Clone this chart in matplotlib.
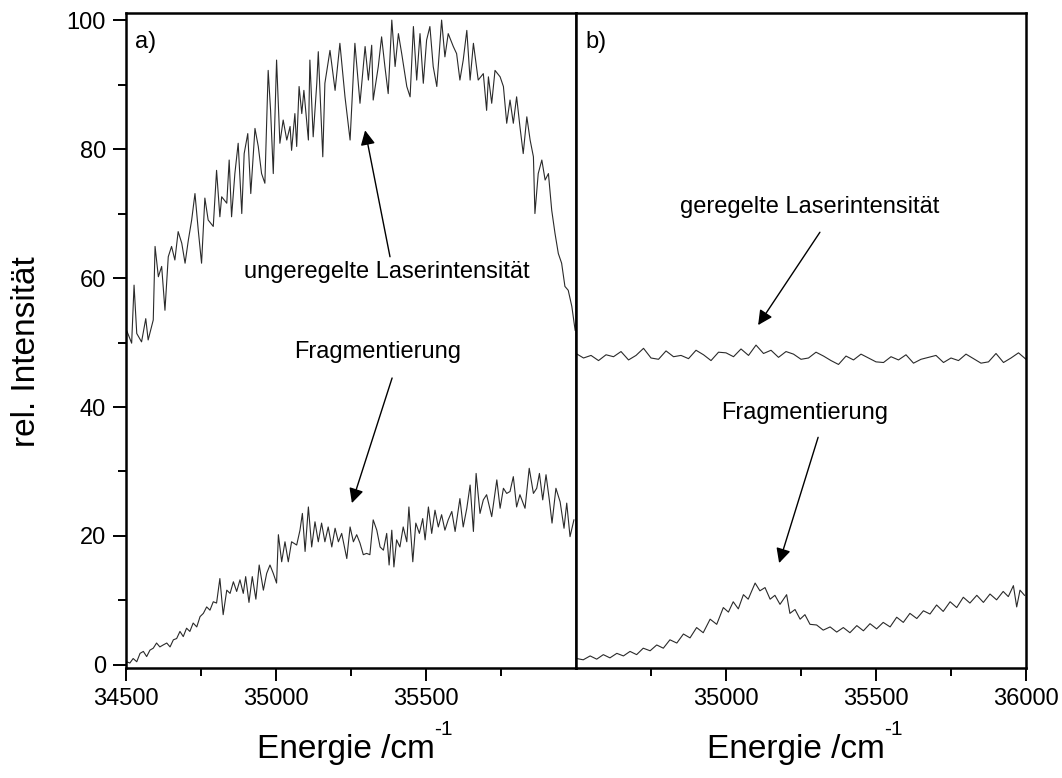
import numpy as np
import matplotlib
matplotlib.use("Agg")
import matplotlib.pyplot as plt
from matplotlib.ticker import MultipleLocator, FixedLocator

plt.rcParams['font.family'] = ['Liberation Sans', 'DejaVu Sans']

# panel a) - unregulated laser intensity
energy_laser_a = [34502, 34519, 34527, 34536, 34552, 34566, 34574, 34591, 34597, 34608,
                  34619, 34630, 34641, 34652, 34663, 34674, 34686, 34697, 34708, 34719,
                  34730, 34741, 34752, 34763, 34774, 34791, 34802, 34813, 34819, 34836,
                  34844, 34852, 34863, 34874, 34886, 34894, 34906, 34916, 34930, 34941,
                  34952, 34963, 34974, 34982, 34991, 35002, 35013, 35024, 35036, 35047,
                  35052, 35063, 35069, 35077, 35086, 35093, 35108, 35113, 35124, 35136,
                  35141, 35156, 35163, 35180, 35197, 35213, 35230, 35247, 35263, 35280,
                  35297, 35308, 35319, 35324, 35341, 35352, 35363, 35374, 35386, 35397,
                  35408, 35419, 35436, 35447, 35458, 35469, 35480, 35491, 35502, 35513,
                  35524, 35536, 35552, 35563, 35574, 35591, 35602, 35613, 35624, 35636,
                  35647, 35658, 35674, 35691, 35702, 35708, 35719, 35730, 35747, 35758,
                  35769, 35780, 35791, 35802, 35813, 35824, 35836, 35847, 35858, 35863,
                  35874, 35886, 35897, 35908, 35919, 35930, 35941, 35952, 35963, 35974,
                  35986, 35997]
laser_a = [51.9, 49.9, 58.9, 51.4, 50.1, 53.7, 50.4, 53.5, 64.9, 60.2,
           61.8, 55.0, 63.3, 64.9, 62.8, 67.2, 65.4, 62.3, 65.9, 69.0,
           73.1, 67.4, 62.3, 72.4, 69.0, 68.0, 76.7, 69.5, 72.6, 71.6,
           78.3, 69.5, 76.2, 80.9, 70.0, 79.3, 82.4, 73.1, 83.2, 80.4,
           76.2, 74.7, 92.2, 86.0, 76.2, 93.8, 80.9, 84.5, 81.4, 83.5,
           79.8, 85.5, 80.4, 89.7, 85.5, 89.1, 81.4, 93.8, 81.9, 90.2,
           95.1, 78.8, 90.2, 95.3, 89.1, 96.4, 88.1, 81.4, 96.4, 87.1,
           95.9, 90.7, 96.1, 87.6, 92.8, 97.4, 92.8, 88.6, 100.0, 92.8,
           97.9, 94.8, 89.7, 88.1, 99.0, 90.7, 97.9, 90.2, 96.9, 99.0,
           92.8, 89.7, 100.0, 94.3, 97.9, 95.9, 94.8, 90.7, 93.8, 98.4,
           90.7, 96.4, 90.7, 91.7, 86.0, 91.2, 87.1, 92.2, 91.2, 89.7,
           84.0, 87.6, 84.0, 88.1, 83.5, 79.3, 85.0, 81.4, 78.8, 70.0,
           76.2, 78.3, 75.2, 76.2, 70.5, 66.9, 63.8, 62.3, 58.7, 58.1,
           55.6, 51.9]

# panel a) - fragmentation signal
energy_frag_a = [34502, 34513, 34524, 34536, 34547, 34558, 34569, 34580, 34591, 34602,
                 34613, 34624, 34636, 34647, 34658, 34669, 34680, 34691, 34702, 34713,
                 34724, 34736, 34747, 34758, 34769, 34780, 34791, 34802, 34813, 34824,
                 34836, 34847, 34858, 34869, 34880, 34891, 34899, 34910, 34921, 34933,
                 34944, 34958, 34969, 34980, 34991, 35002, 35008, 35019, 35030, 35041,
                 35052, 35069, 35080, 35088, 35097, 35108, 35119, 35130, 35141, 35152,
                 35163, 35174, 35186, 35197, 35208, 35219, 35236, 35247, 35258, 35269,
                 35280, 35291, 35302, 35313, 35324, 35336, 35347, 35358, 35369, 35377,
                 35386, 35393, 35402, 35413, 35424, 35436, 35443, 35456, 35466, 35478,
                 35489, 35497, 35508, 35519, 35530, 35541, 35552, 35563, 35574, 35586,
                 35597, 35613, 35624, 35636, 35647, 35658, 35667, 35680, 35691, 35702,
                 35719, 35736, 35747, 35758, 35769, 35780, 35791, 35802, 35813, 35830,
                 35844, 35858, 35869, 35878, 35889, 35900, 35911, 35920, 35933, 35947,
                 35960, 35969, 35980, 35993]
frag_a = [0.5, 0.3, 1.0, 0.5, 1.8, 2.1, 1.3, 2.3, 2.6, 3.4,
          2.8, 3.1, 3.4, 2.8, 3.9, 4.1, 5.2, 4.4, 5.7, 5.2,
          6.5, 5.9, 7.5, 8.0, 9.0, 8.5, 9.8, 9.6, 13.4, 7.8,
          11.6, 11.1, 12.9, 11.4, 13.2, 11.1, 13.7, 9.7, 13.7, 10.2,
          15.5, 11.6, 14.2, 15.5, 14.2, 12.7, 20.2, 16.0, 19.1, 16.0,
          19.1, 18.6, 20.9, 23.5, 17.6, 24.5, 18.3, 22.2, 19.1, 22.0,
          19.1, 21.4, 18.3, 21.2, 19.1, 20.4, 16.5, 21.4, 19.1, 20.2,
          18.9, 17.1, 17.3, 17.1, 22.5, 20.9, 18.3, 17.8, 20.4, 15.5,
          20.9, 15.2, 19.4, 18.3, 21.4, 19.1, 24.5, 16.0, 22.0, 20.4,
          22.7, 19.4, 24.5, 20.4, 24.0, 21.4, 23.3, 20.9, 22.5, 23.8,
          20.7, 25.8, 21.4, 24.3, 27.9, 20.7, 29.7, 23.5, 25.6, 26.4,
          23.0, 28.7, 24.3, 27.4, 26.6, 26.9, 29.2, 24.5, 26.4, 24.3,
          30.5, 26.6, 27.4, 29.7, 25.6, 29.5, 25.6, 22.0, 27.4, 25.3,
          21.2, 25.1, 19.9, 22.5]

# panel b) - regulated laser intensity
energy_laser_b = [34500, 34525, 34550, 34575, 34600, 34625, 34650, 34675, 34700, 34725,
                  34750, 34775, 34800, 34825, 34850, 34875, 34900, 34925, 34950, 34975,
                  35000, 35025, 35050, 35075, 35100, 35125, 35150, 35175, 35200, 35225,
                  35250, 35275, 35300, 35325, 35350, 35375, 35400, 35425, 35450, 35475,
                  35500, 35525, 35550, 35575, 35600, 35625, 35650, 35675, 35700, 35725,
                  35750, 35775, 35800, 35825, 35850, 35875, 35900, 35925, 35950, 35975,
                  36000]
laser_b = [48.3, 47.6, 48.0, 47.2, 48.1, 47.8, 48.6, 47.3, 48.0, 49.1,
           47.6, 47.4, 48.7, 47.8, 48.0, 47.5, 48.8, 48.1, 47.2, 48.5,
           48.4, 47.8, 49.0, 48.0, 49.6, 48.3, 48.8, 47.7, 48.6, 48.2,
           47.4, 47.6, 48.5, 47.9, 47.2, 46.6, 47.9, 47.3, 48.2, 47.6,
           47.0, 46.9, 47.8, 47.3, 48.1, 46.8, 47.4, 47.7, 48.0, 46.9,
           47.6, 47.2, 48.2, 47.5, 46.8, 47.0, 48.3, 46.9, 47.6, 48.4,
           47.4]

# panel b) - fragmentation signal
energy_frag_b = [34502, 34524, 34547, 34569, 34591, 34613, 34636, 34658, 34680, 34702,
                 34724, 34747, 34769, 34791, 34813, 34836, 34858, 34880, 34902, 34924,
                 34947, 34969, 34991, 35008, 35024, 35041, 35058, 35074, 35097, 35113,
                 35130, 35147, 35163, 35180, 35202, 35213, 35230, 35247, 35263, 35280,
                 35302, 35324, 35347, 35369, 35391, 35413, 35436, 35458, 35480, 35502,
                 35524, 35547, 35569, 35591, 35613, 35636, 35658, 35680, 35702, 35724,
                 35747, 35769, 35791, 35813, 35836, 35858, 35880, 35902, 35924, 35941,
                 35958, 35969, 35980, 35995]
frag_b = [1.0, 0.8, 1.4, 0.9, 1.6, 1.1, 1.8, 1.4, 2.1, 1.6,
          2.6, 2.2, 3.1, 2.6, 3.9, 3.4, 4.8, 4.2, 5.8, 5.0,
          7.1, 6.3, 8.9, 8.2, 9.8, 8.7, 10.9, 10.2, 12.7, 11.5,
          12.0, 10.2, 10.8, 9.4, 10.9, 8.0, 8.6, 7.1, 7.8, 6.3,
          6.2, 5.4, 5.9, 5.1, 5.8, 5.0, 6.1, 5.3, 6.4, 5.6,
          6.6, 5.9, 7.4, 6.6, 8.0, 7.2, 8.4, 7.9, 9.3, 8.3,
          9.8, 8.9, 10.5, 9.6, 10.8, 9.7, 11.0, 10.1, 11.4, 10.6,
          12.3, 9.0, 11.6, 10.8]

xmajor_a = [34500, 35000, 35500]
xmajor_b = [35000, 35500, 36000]
yticks = [0, 20, 40, 60, 80, 100]

line_kw = dict(color='#2a2a2a', lw=0.8)
arrow_kw = dict(arrowstyle='-|>', color='black', lw=1.0, mutation_scale=22,
                shrinkA=0, shrinkB=0)


def style_axis(ax, major):
    ax.set_xlim(34500, 36000)
    ax.set_ylim(-0.47, 101.1)
    ax.xaxis.set_major_locator(FixedLocator(major))
    ax.xaxis.set_minor_locator(FixedLocator([34750, 35250, 35750]))
    ax.tick_params(axis='both', which='major', direction='out', length=9.5,
                   width=1.4, labelsize=17, pad=5)
    ax.tick_params(axis='both', which='minor', direction='out', length=5.8,
                   width=1.4)
    for s in ax.spines.values():
        s.set_linewidth(1.8)


def energy_label(x):
    # axis title with a small "-1" exponent written as plain text
    t = fig.text(x, 0.036, 'Energie /cm', fontsize=24, ha='center', va='center')
    ax1.annotate('-1', xy=(1.0, 0.85), xycoords=t, fontsize=15,
                 ha='left', va='bottom', annotation_clip=False)


fig = plt.figure(figsize=(10.62, 7.78), dpi=100)
ax1 = fig.add_axes([0.1186, 0.1414, 0.4238, 0.8419])
ax2 = fig.add_axes([0.5424, 0.1414, 0.4237, 0.8419])

ax1.plot(energy_laser_a, laser_a, **line_kw)
ax1.plot(energy_frag_a, frag_a, **line_kw)
style_axis(ax1, xmajor_a)
ax1.yaxis.set_major_locator(FixedLocator(yticks))
ax1.yaxis.set_minor_locator(MultipleLocator(10))
ax1.tick_params(axis='y', right=False, which='both')
ax1.text(0.02, 0.955, 'a)', transform=ax1.transAxes, fontsize=17,
         ha='left', va='center')

ax1.annotate('', xy=(35297, 82.9), xytext=(35380, 63.3), arrowprops=arrow_kw)
ax1.text(35370, 60.9, 'ungeregelte Laserintensität', fontsize=17,
         ha='center', va='center')
ax1.annotate('', xy=(35253, 25.1), xytext=(35387, 44.5), arrowprops=arrow_kw)
ax1.text(35340, 48.5, 'Fragmentierung', fontsize=17, ha='center', va='center')

ax2.plot(energy_laser_b, laser_b, **line_kw)
ax2.plot(energy_frag_b, frag_b, **line_kw)
style_axis(ax2, xmajor_b)
ax2.set_yticks([])
ax2.yaxis.set_minor_locator(FixedLocator([]))
ax2.text(0.02, 0.955, 'b)', transform=ax2.transAxes, fontsize=17,
         ha='left', va='center')

ax2.annotate('', xy=(35107, 52.7), xytext=(35313, 67.1), arrowprops=arrow_kw)
ax2.text(35280, 71.0, 'geregelte Laserintensität', fontsize=17,
         ha='center', va='center')
ax2.annotate('', xy=(35177, 15.8), xytext=(35307, 35.3), arrowprops=arrow_kw)
ax2.text(35263, 39.1, 'Fragmentierung', fontsize=17, ha='center', va='center')

fig.text(0.025, 0.5475, 'rel. Intensität', rotation=90, fontsize=24,
         ha='center', va='center')
energy_label(0.3255)
energy_label(0.7492)

fig.savefig('out.png', dpi=100)
